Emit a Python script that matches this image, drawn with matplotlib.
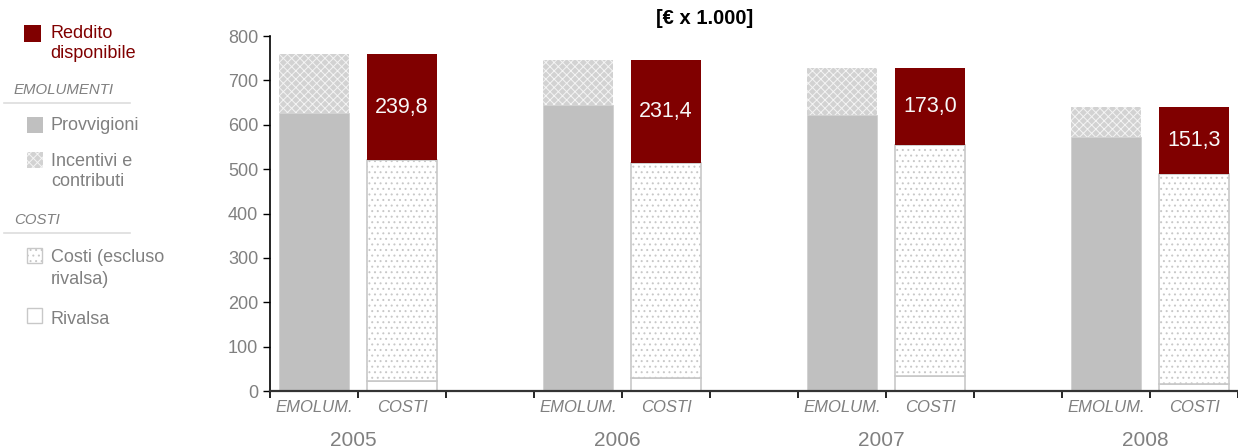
import matplotlib
matplotlib.use('Agg')
import matplotlib.pyplot as plt
from matplotlib.patches import Rectangle
from matplotlib.lines import Line2D

plt.rcParams['font.family'] = ['Liberation Sans', 'DejaVu Sans']
plt.rcParams['hatch.linewidth'] = 0.7

years = ['2005', '2006', '2007', '2008']
provvigioni = [626, 645, 622, 573]
incentivi = [134, 100, 105, 68]
rivalsa = [22, 29, 33, 15]
costi = [498, 485, 521, 474]
reddito = [239.8, 231.4, 173.0, 151.3]
reddito_lbl = ['239,8', '231,4', '173,0', '151,3']
yticks = [0, 100, 200, 300, 400, 500, 600, 700, 800]

W, H = 1238, 448
fig = plt.figure(figsize=(W / 100, H / 100), dpi=100)
ax = fig.add_axes([270 / W, 1 - 391 / H, 1 - 270 / W, 355 / H])

gray_txt = '#808080'
red = '#800000'
bw = 0.79

em_x = [3 * i for i in range(len(years))]
co_x = [3 * i + 1 for i in range(len(years))]

# emolumenti
ax.bar(em_x, provvigioni, bw, color='#c0c0c0', edgecolor='#d0d0d0', lw=0.6)
ax.bar(em_x, incentivi, bw, bottom=provvigioni, color='#d2d2d2',
       edgecolor='#f4f4f4', hatch='xxxx', lw=0)
# costi
ax.bar(co_x, rivalsa, bw, color='white', edgecolor='#c8c8c8', lw=1.2)
ax.bar(co_x, costi, bw, bottom=rivalsa, color='white', edgecolor='#c8c8c8',
       hatch='...', lw=1.2)
base = [r + c for r, c in zip(rivalsa, costi)]
ax.bar(co_x, reddito, bw, bottom=base, color=red, lw=0)
for x, b, v, t in zip(co_x, base, reddito, reddito_lbl):
    ax.text(x, b + v / 2, t, ha='center', va='center', color='#f8f8f8', fontsize=15.5)

ax.set_ylim(0, 800)
ax.set_xlim(-0.5, -0.5 + (W - 270) / 88.6)
ax.set_yticks(yticks)
ax.tick_params(axis='y', colors='black', labelcolor=gray_txt, labelsize=13,
               length=5, width=1)
ax.set_xticks([i + 0.5 for i in range(-1, 11)])
ax.set_xticklabels([])
ax.tick_params(axis='x', length=5, width=1.2, direction='out')
for s in ['top', 'right']:
    ax.spines[s].set_visible(False)
ax.spines['left'].set_linewidth(1.2)
ax.spines['bottom'].set_linewidth(1.6)
ax.spines['bottom'].set_color('#333333')

for i, y in enumerate(years):
    ax.text(em_x[i], -38, 'EMOLUM.', ha='center', va='center', style='italic',
            color=gray_txt, fontsize=12)
    ax.text(co_x[i], -38, 'COSTI', ha='center', va='center', style='italic',
            color=gray_txt, fontsize=12)
    ax.text(em_x[i] + 0.45, -111, y, ha='center', va='center', color=gray_txt,
            fontsize=15)

fig.text(705 / W, 1 - 19 / H, '[€ x 1.000]', ha='center', va='center',
         fontweight='bold', fontsize=14.5)

# legenda a sinistra
def px(x, y):
    return x / W, 1 - y / H

def box(x, y, s, **kw):
    fig.patches.append(Rectangle(px(x, y + s), s / W, s / H,
                                 transform=fig.transFigure, **kw))

box(24, 25, 17, facecolor=red, lw=0)
fig.text(*px(50, 34), 'Reddito', color=red, fontsize=13, va='center')
fig.text(*px(50, 54), 'disponibile', color=red, fontsize=13, va='center')

fig.text(*px(14, 90), 'EMOLUMENTI', color=gray_txt, style='italic',
         fontsize=10.8, va='center')
fig.lines.append(Line2D([4 / W, 130 / W], [1 - 103 / H] * 2,
                        transform=fig.transFigure, color='#dddddd', lw=1.2))
box(27, 117, 16, facecolor='#c0c0c0', lw=0)
fig.text(*px(51, 126), 'Provvigioni', color=gray_txt, fontsize=13, va='center')
box(27, 152, 16, facecolor='#d2d2d2', edgecolor='#f4f4f4', hatch='xxxx', lw=0)
fig.text(*px(51, 161), 'Incentivi e', color=gray_txt, fontsize=13, va='center')
fig.text(*px(51, 182), 'contributi', color=gray_txt, fontsize=13, va='center')

fig.text(*px(14, 220), 'COSTI', color=gray_txt, style='italic',
         fontsize=10.8, va='center')
fig.lines.append(Line2D([4 / W, 130 / W], [1 - 233 / H] * 2,
                        transform=fig.transFigure, color='#dddddd', lw=1.2))
box(27, 248, 15, facecolor='white', edgecolor='#c8c8c8', hatch='...', lw=1)
fig.text(*px(51, 257), 'Costi (escluso', color=gray_txt, fontsize=13, va='center')
fig.text(*px(51, 279), 'rivalsa)', color=gray_txt, fontsize=13, va='center')
box(27, 308, 15, facecolor='white', edgecolor='#c8c8c8', lw=1)
fig.text(*px(51, 319), 'Rivalsa', color=gray_txt, fontsize=13, va='center')

fig.savefig('out.png', dpi=100)
